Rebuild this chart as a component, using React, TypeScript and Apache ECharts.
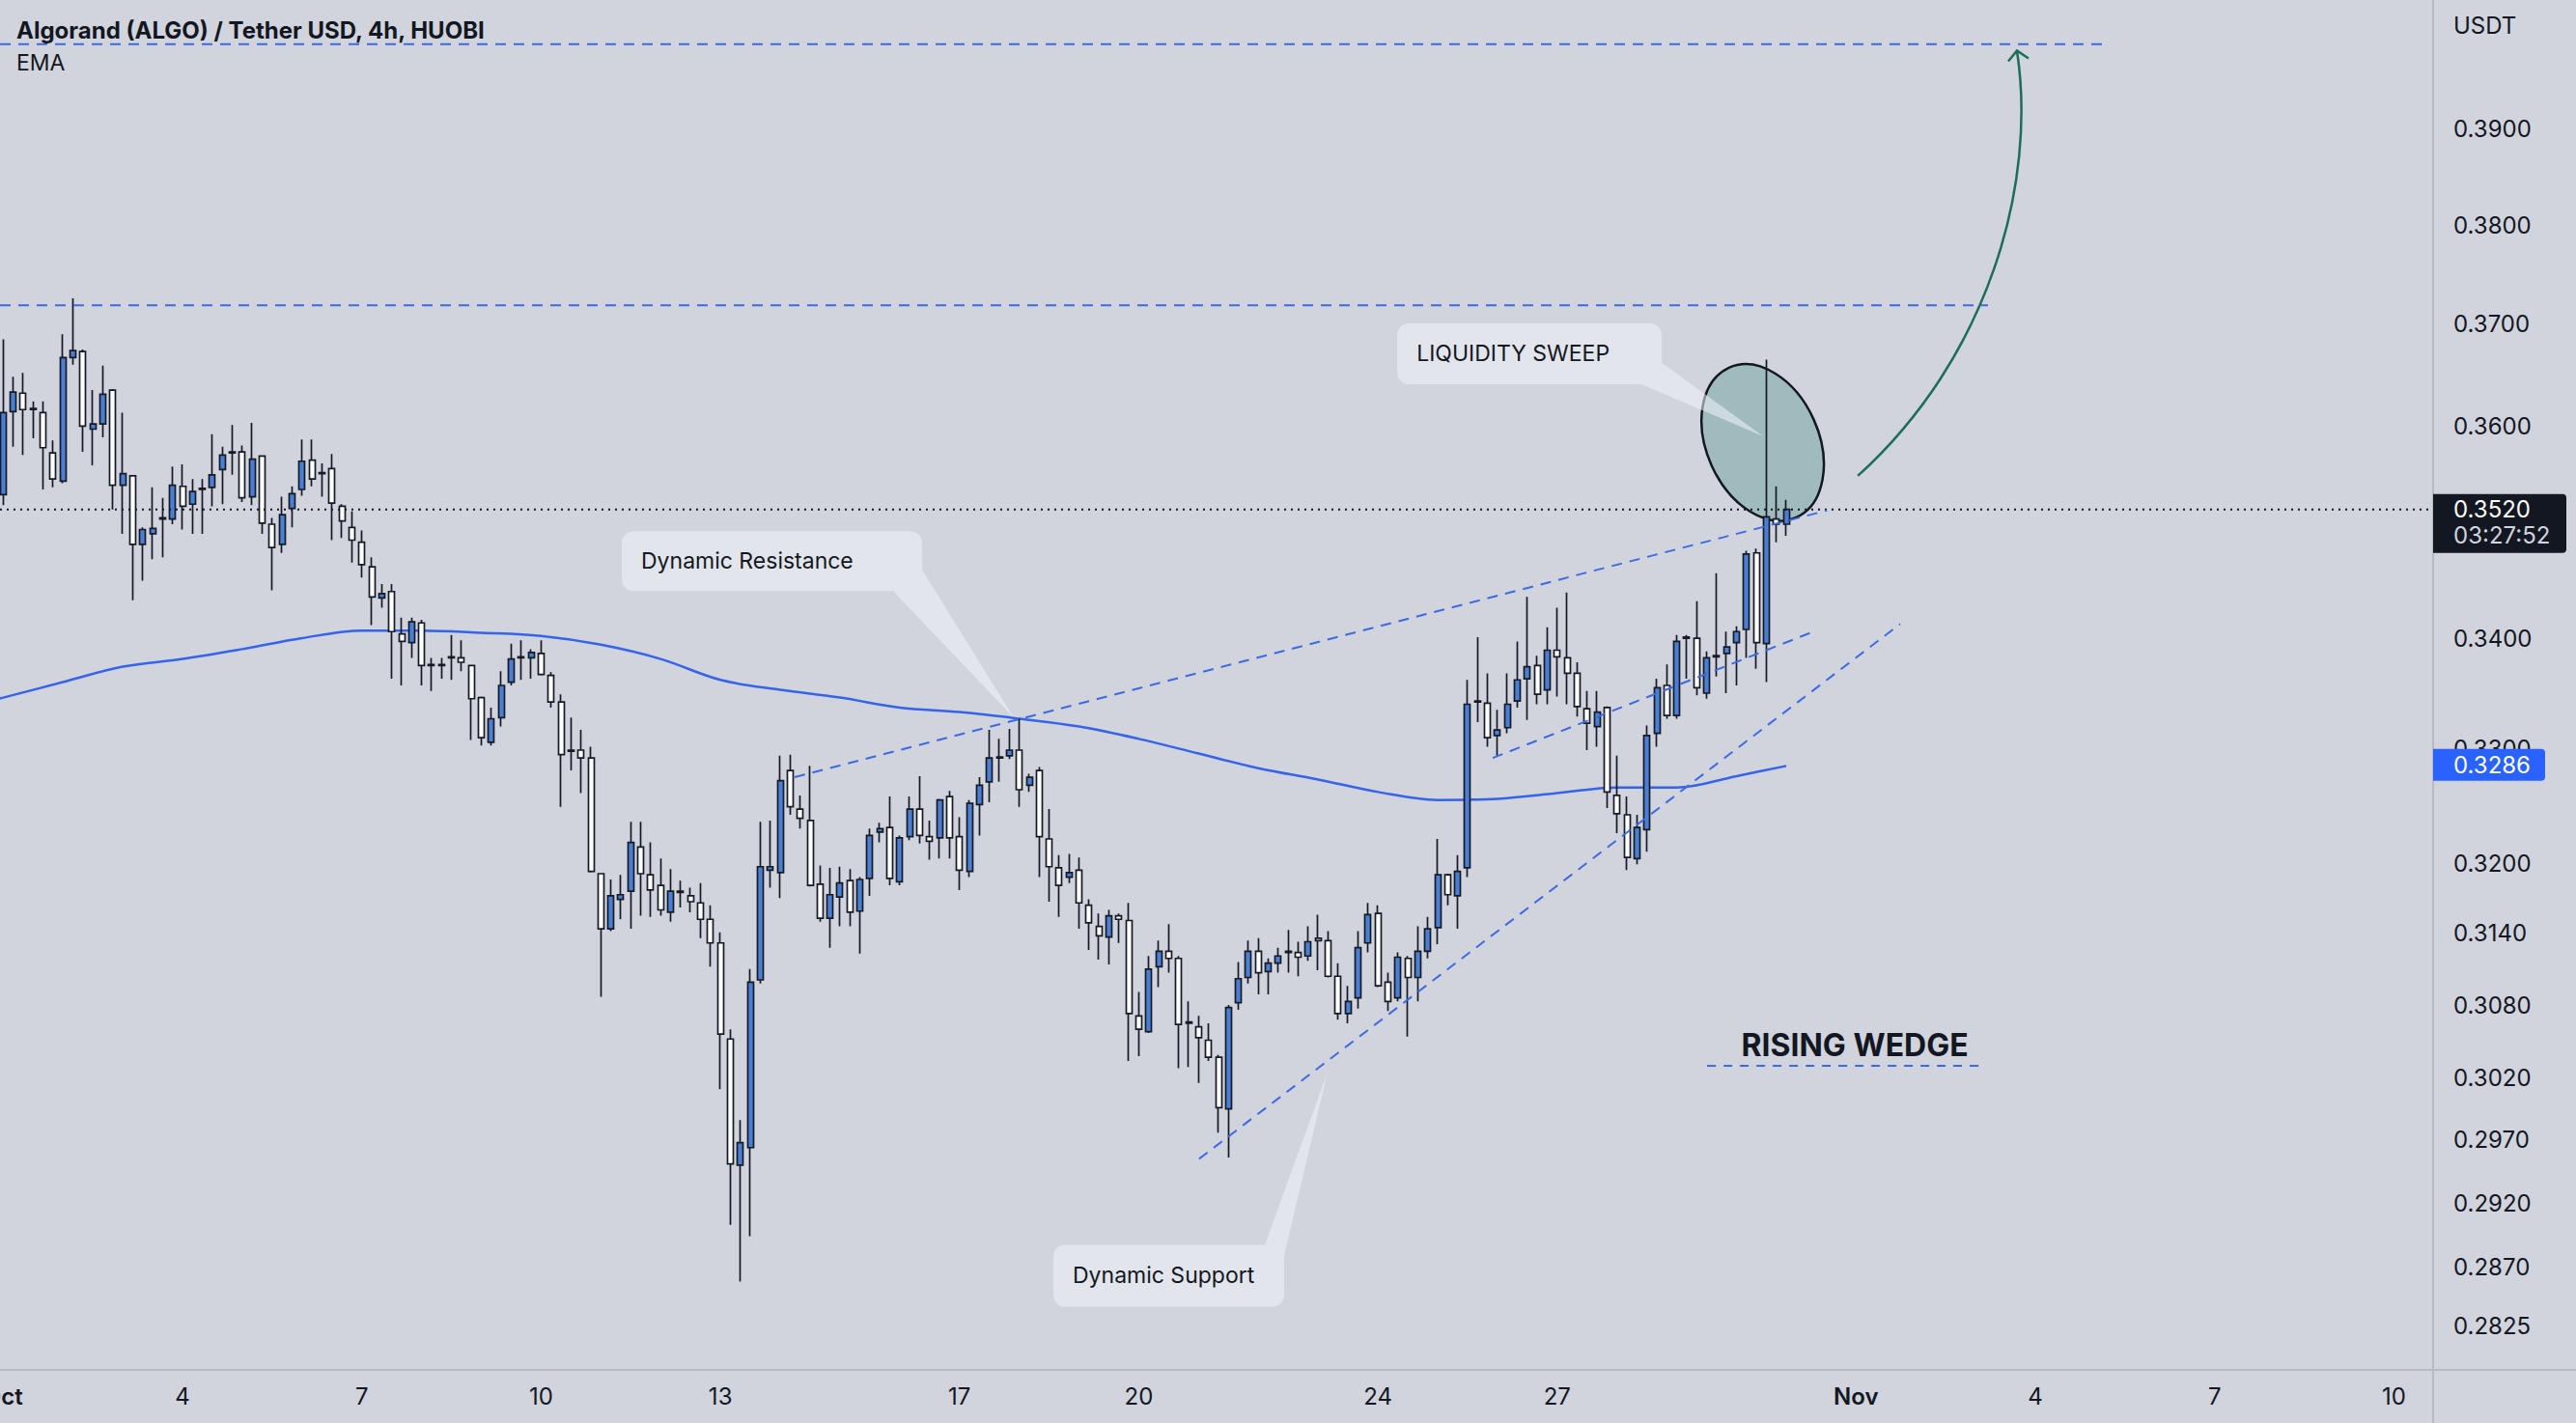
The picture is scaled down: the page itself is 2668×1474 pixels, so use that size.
import React, { useEffect, useRef } from "react";
import * as echarts from "echarts";

// ---------- data ----------
const BAR_HOURS = 4; // 4h candles, x = hours since 1 Oct 00:00
// [open, close, low, high]
const OHLC: number[][] = [
  [0.3534, 0.3613, 0.3524, 0.3685], [0.3614, 0.3633, 0.358, 0.3648], [0.3632, 0.3616, 0.3572, 0.3652],
  [0.3617, 0.3616, 0.3588, 0.3624], [0.3613, 0.3579, 0.3539, 0.3624], [0.3574, 0.3549, 0.3541, 0.3586],
  [0.3547, 0.3667, 0.3545, 0.369], [0.3667, 0.3674, 0.366, 0.3726], [0.3673, 0.36, 0.3575, 0.3675],
  [0.3597, 0.3602, 0.3562, 0.3635], [0.3602, 0.3631, 0.3589, 0.3659], [0.3635, 0.3543, 0.352, 0.3636],
  [0.3543, 0.3554, 0.3497, 0.3613], [0.3552, 0.3487, 0.3435, 0.3552], [0.3487, 0.3501, 0.3453, 0.3503],
  [0.3497, 0.3502, 0.3473, 0.3541], [0.3511, 0.3512, 0.3475, 0.3531], [0.3511, 0.3543, 0.3506, 0.3561],
  [0.3542, 0.3523, 0.3501, 0.3563], [0.3525, 0.3537, 0.3497, 0.3549], [0.3539, 0.354, 0.3497, 0.3549],
  [0.3541, 0.3553, 0.3523, 0.3592], [0.3558, 0.3572, 0.3525, 0.358], [0.3575, 0.3574, 0.3553, 0.3601],
  [0.3575, 0.3531, 0.3527, 0.3581], [0.3532, 0.3568, 0.3524, 0.3603], [0.3571, 0.3507, 0.3497, 0.3571],
  [0.3506, 0.3484, 0.3444, 0.3512], [0.3487, 0.3515, 0.3479, 0.3532], [0.3521, 0.3535, 0.3503, 0.3542],
  [0.3539, 0.3566, 0.3533, 0.3587], [0.3567, 0.3549, 0.3542, 0.3587], [0.3555, 0.3554, 0.3532, 0.3564],
  [0.3559, 0.3526, 0.3491, 0.3573], [0.3523, 0.3509, 0.3493, 0.3525], [0.3503, 0.3491, 0.347, 0.3518],
  [0.3489, 0.3468, 0.3456, 0.35], [0.3466, 0.3438, 0.3412, 0.3475], [0.3437, 0.3441, 0.3428, 0.345],
  [0.3443, 0.3406, 0.3363, 0.345], [0.3404, 0.3397, 0.3357, 0.3419], [0.3396, 0.3415, 0.3382, 0.3419],
  [0.3414, 0.3375, 0.3357, 0.3417], [0.3376, 0.3375, 0.3352, 0.3382], [0.3376, 0.3375, 0.3363, 0.3382],
  [0.3382, 0.3383, 0.3362, 0.3403], [0.3382, 0.3378, 0.337, 0.3398], [0.3375, 0.3345, 0.3308, 0.3375],
  [0.3346, 0.331, 0.3303, 0.3347], [0.3306, 0.3327, 0.3303, 0.3337], [0.3328, 0.3357, 0.332, 0.337],
  [0.336, 0.3381, 0.3357, 0.3395], [0.3382, 0.3383, 0.3362, 0.3398], [0.3382, 0.3387, 0.3363, 0.339],
  [0.3386, 0.3367, 0.3366, 0.3398], [0.3366, 0.3342, 0.3337, 0.3369], [0.3342, 0.3295, 0.3249, 0.3349],
  [0.3299, 0.3298, 0.3281, 0.3328], [0.3299, 0.3292, 0.3261, 0.3317], [0.3292, 0.3193, 0.3192, 0.3302],
  [0.3191, 0.3144, 0.3087, 0.3191], [0.3144, 0.3172, 0.3142, 0.3186], [0.3169, 0.3173, 0.3152, 0.319],
  [0.3176, 0.3218, 0.3144, 0.3236], [0.3214, 0.3191, 0.3155, 0.3236], [0.319, 0.3177, 0.3154, 0.3218],
  [0.3181, 0.316, 0.3155, 0.3204], [0.3158, 0.3176, 0.315, 0.3195], [0.3176, 0.3175, 0.3162, 0.3185],
  [0.3172, 0.3167, 0.3158, 0.3179], [0.3166, 0.3152, 0.3136, 0.3183], [0.3152, 0.3132, 0.3112, 0.3164],
  [0.3132, 0.3056, 0.3011, 0.3141], [0.3052, 0.2951, 0.2903, 0.306], [0.295, 0.2968, 0.2859, 0.2986],
  [0.2964, 0.3099, 0.2894, 0.311], [0.3101, 0.3197, 0.3098, 0.3236], [0.3194, 0.3197, 0.3179, 0.3237],
  [0.3192, 0.3272, 0.317, 0.3294], [0.3281, 0.3249, 0.3242, 0.3295], [0.3247, 0.3239, 0.323, 0.3259],
  [0.3237, 0.3181, 0.318, 0.3285], [0.3182, 0.3153, 0.315, 0.3198], [0.3153, 0.3173, 0.3128, 0.3196],
  [0.3171, 0.3183, 0.3146, 0.3197], [0.3185, 0.3158, 0.3146, 0.3195], [0.3159, 0.3186, 0.3123, 0.3188],
  [0.3187, 0.3224, 0.3172, 0.323], [0.3227, 0.323, 0.3218, 0.3235], [0.3231, 0.3187, 0.3181, 0.3258],
  [0.3184, 0.3222, 0.3181, 0.3224], [0.3223, 0.3247, 0.322, 0.3258], [0.3247, 0.3224, 0.3217, 0.3276],
  [0.3223, 0.3219, 0.3203, 0.3237], [0.3222, 0.3255, 0.3204, 0.3256], [0.3258, 0.3222, 0.3204, 0.3263],
  [0.3223, 0.3194, 0.3177, 0.324], [0.3193, 0.3252, 0.3188, 0.3255], [0.3251, 0.3268, 0.3224, 0.3275],
  [0.3271, 0.3292, 0.3253, 0.3317], [0.3292, 0.3293, 0.3271, 0.3309], [0.3294, 0.3299, 0.3291, 0.3318],
  [0.3299, 0.3264, 0.3249, 0.3327], [0.3268, 0.3275, 0.3262, 0.3278], [0.3281, 0.3223, 0.3188, 0.3284],
  [0.3221, 0.3197, 0.3167, 0.3247], [0.3196, 0.3181, 0.3154, 0.3207], [0.3188, 0.3192, 0.3183, 0.3208],
  [0.3194, 0.3166, 0.3144, 0.3205], [0.3164, 0.3149, 0.3126, 0.3169], [0.3146, 0.3138, 0.3118, 0.3157],
  [0.3137, 0.3155, 0.3114, 0.316], [0.3155, 0.3152, 0.3132, 0.3157], [0.3151, 0.3073, 0.3034, 0.3166],
  [0.3071, 0.306, 0.3038, 0.3091], [0.3058, 0.311, 0.3057, 0.3121], [0.3112, 0.3125, 0.3095, 0.3134],
  [0.3125, 0.3119, 0.3107, 0.3148], [0.3119, 0.3064, 0.3028, 0.3121], [0.3066, 0.3065, 0.3029, 0.3083],
  [0.3062, 0.3053, 0.3016, 0.3071], [0.3051, 0.3037, 0.3034, 0.3065], [0.3037, 0.2996, 0.2976, 0.3039],
  [0.2995, 0.3078, 0.2956, 0.308], [0.3082, 0.3102, 0.3076, 0.3116], [0.3103, 0.3125, 0.3098, 0.3134],
  [0.3125, 0.3107, 0.3089, 0.3136], [0.3108, 0.3115, 0.3089, 0.3119], [0.3115, 0.3121, 0.3107, 0.3128],
  [0.3125, 0.3124, 0.3107, 0.3143], [0.3124, 0.312, 0.3104, 0.3133], [0.3121, 0.3133, 0.3117, 0.3146],
  [0.3136, 0.3134, 0.3109, 0.3156], [0.3134, 0.3104, 0.3103, 0.3142], [0.3104, 0.3073, 0.3068, 0.3115],
  [0.3073, 0.3083, 0.3065, 0.3096], [0.3086, 0.3128, 0.3077, 0.3142], [0.3132, 0.3156, 0.3124, 0.3166],
  [0.3157, 0.3096, 0.3095, 0.3164], [0.3099, 0.3083, 0.3075, 0.3107], [0.3086, 0.312, 0.3083, 0.3124],
  [0.3119, 0.3103, 0.3054, 0.3121], [0.3103, 0.3125, 0.3083, 0.3146], [0.3125, 0.3144, 0.3119, 0.3154],
  [0.3145, 0.319, 0.3131, 0.3221], [0.319, 0.3173, 0.3164, 0.3191], [0.3172, 0.3193, 0.3144, 0.3207],
  [0.3196, 0.334, 0.3188, 0.3362], [0.3342, 0.3343, 0.3324, 0.3401], [0.3341, 0.331, 0.3302, 0.3368],
  [0.3312, 0.3317, 0.3294, 0.3335], [0.3319, 0.334, 0.3314, 0.3368], [0.3343, 0.3362, 0.3337, 0.3397],
  [0.3363, 0.3374, 0.3326, 0.3438], [0.3375, 0.3349, 0.334, 0.3384], [0.3353, 0.3389, 0.334, 0.341],
  [0.3389, 0.3383, 0.3347, 0.3428], [0.3382, 0.3368, 0.334, 0.3442], [0.3368, 0.3338, 0.3329, 0.3378],
  [0.3336, 0.3323, 0.3299, 0.3352], [0.332, 0.3333, 0.3302, 0.3352], [0.3337, 0.3262, 0.3248, 0.3338],
  [0.3259, 0.3243, 0.3226, 0.3294], [0.3242, 0.3205, 0.3194, 0.3258], [0.3204, 0.3231, 0.3199, 0.3242],
  [0.3229, 0.3312, 0.321, 0.3321], [0.3314, 0.3355, 0.3302, 0.3363], [0.3357, 0.333, 0.3327, 0.3376],
  [0.333, 0.3397, 0.3327, 0.3403], [0.3401, 0.34, 0.3363, 0.3403], [0.34, 0.3355, 0.3348, 0.3434],
  [0.335, 0.3382, 0.3345, 0.3388], [0.3383, 0.3384, 0.3365, 0.346], [0.3386, 0.3392, 0.335, 0.3406],
  [0.3396, 0.3406, 0.3357, 0.3411], [0.3408, 0.3478, 0.3382, 0.3481], [0.3479, 0.3396, 0.3372, 0.3483],
  [0.3395, 0.3513, 0.336, 0.3665], [0.3511, 0.3506, 0.3489, 0.3542], [0.3506, 0.352, 0.3495, 0.3529],
];

const EMA_BARS = [-1, 0, 6, 12, 18, 24, 30, 36, 42, 48, 54, 60, 66, 72, 78, 84, 90, 96, 102, 108, 114, 120, 126, 132, 138, 144, 150, 156, 162, 168, 174, 179];
const EMA_VALUES = [0.3344, 0.3346, 0.336, 0.3374, 0.3381, 0.339, 0.34, 0.3407, 0.3407, 0.3405, 0.3402, 0.3394, 0.3381, 0.3362, 0.3353, 0.3346, 0.3337, 0.3333, 0.3327, 0.332, 0.3309, 0.3296, 0.3283, 0.3273, 0.3262, 0.3255, 0.3256, 0.3261, 0.3266, 0.3266, 0.3276, 0.3285];

const X_TICK_HOURS = [0, 72, 144, 216, 288, 384, 456, 552, 624, 744, 816, 888, 960];
const X_TICK_LABELS = ["Oct", "4", "7", "10", "13", "17", "20", "24", "27", "Nov", "4", "7", "10"];
const Y_TICKS = [0.2825, 0.287, 0.292, 0.297, 0.302, 0.308, 0.314, 0.32, 0.33, 0.34, 0.36, 0.37, 0.38, 0.39];
const X_RANGE = [-1.28, 975.7];
const Y_RANGE = [0.27917, 0.40378];

const LAST_PRICE = 0.352;
const LAST_COUNTDOWN = "03:27:52";
const EMA_LAST = 0.3286;

// horizontal levels: price and end (hours)
const LEVEL_PRICES = [0.399, 0.3719];
const LEVEL_ENDS = [844.3, 797.0];
// trend lines: [[hours, price], [hours, price]]
const RESISTANCE_LINE = [[317.8, 0.3275], [732.3, 0.3519]];
const SUPPORT_LINE = [[480.2, 0.2955], [761.7, 0.3413]];
const INNER_LINE = [[598.1, 0.3292], [728.0, 0.3407]];
const WEDGE_UNDERLINE = [[684.2, 0.303], [795.9, 0.303]];

// annotation anchors in data space
const ELLIPSE_CENTER = [706.5, 0.3584];
const ARROW_FROM = [744.7, 0.3552];
const ARROW_TO = [808.6, 0.3983];
const WEDGE_TEXT_AT = [743.5, 0.3047];
const CALLOUT_TEXTS = ["Dynamic Resistance", "LIQUIDITY SWEEP", "Dynamic Support"];
const CALLOUT_TIPS = [[405.8, 0.3328], [706.7, 0.359], [531.8, 0.3025]];

// ---------- layout / style ----------
const W = 2668;
const H = 1474;
const GRID = { left: 0, right: 148, top: 0, bottom: 55 };
const BG = "#d1d4dc";
const TEXT = "#131722";
const FONT = 'Inter, "Noto Sans", Roboto, sans-serif';
const DASH_BLUE = "#3d6ae3";
const EMA_BLUE = "#3563ea";
const FRAME = "#b7bac3";
const CALLOUT_FILL = "rgba(240,243,250,0.55)";
// callout layout relative to the tip (px): box [dx, dy, w, h], wedge base A, B, corner C
const CALLOUT_LAYOUT = [
  { box: [-406, -193, 311, 62], pts: [[-125, -131], [-95, -153], [-95, -131]], r: [12, 12, 0, 12] },
  { box: [-379, -117, 274, 63], pts: [[-126, -54], [-105, -76], [-105, -54]], r: [12, 12, 0, 12] },
  { box: [-284, 179, 239, 64], pts: [[-65, 179], [-45, 190], [-45, 179]], r: [12, 0, 12, 12] },
];

function lineSeries(data: number[][], color: string, width: number, type: any, z = 3, smooth: any = false) {
  return {
    type: "line",
    data,
    symbol: "none",
    silent: true,
    smooth,
    z,
    lineStyle: { color, width, type },
    animation: false,
  };
}

export default function App() {
  const ref = useRef<HTMLDivElement>(null);

  useEffect(() => {
    if (!ref.current) return;
    const chart = echarts.init(ref.current, null, { renderer: "svg" });

    const candles = OHLC.map((d, i) => [i * BAR_HOURS, d[0], d[1], d[2], d[3]]);
    const ema = EMA_BARS.map((b, k) => [b * BAR_HOURS, EMA_VALUES[k]]);

    const option: any = {
      animation: false,
      backgroundColor: BG,
      grid: { ...GRID, containLabel: false, outerBoundsMode: "none" },
      xAxis: {
        type: "value",
        min: X_RANGE[0],
        max: X_RANGE[1],
        axisLine: { show: true, onZero: false, lineStyle: { color: FRAME, width: 2 } },
        axisTick: { show: false },
        splitLine: { show: false },
        axisLabel: {
          customValues: X_TICK_HOURS,
          margin: 15,
          color: TEXT,
          fontSize: 24,
          fontFamily: FONT,
          formatter: (v: number) => {
            const k = X_TICK_HOURS.findIndex((h) => Math.abs(h - v) < 0.01);
            if (k < 0) return "";
            const lab = X_TICK_LABELS[k];
            return isNaN(Number(lab)) ? `{m|${lab}}` : lab;
          },
          rich: { m: { fontWeight: 600, fontSize: 24, color: TEXT, fontFamily: FONT } },
        },
      },
      yAxis: {
        type: "log",
        logBase: 10,
        position: "right",
        min: Y_RANGE[0],
        max: Y_RANGE[1],
        axisLine: { show: true, onZero: false, lineStyle: { color: FRAME, width: 2 } },
        axisTick: { show: false },
        splitLine: { show: false },
        axisLabel: {
          customValues: Y_TICKS,
          margin: 21,
          color: TEXT,
          fontSize: 24,
          fontFamily: FONT,
          formatter: (v: number) => Number(v).toFixed(4),
        },
      },
      series: [
        lineSeries(ema, EMA_BLUE, 2.5, "solid", 1, 0.35),
        {
          type: "candlestick",
          data: candles,
          encode: { x: 0, y: [1, 2, 3, 4] },
          barWidth: 6.5,
          z: 2,
          silent: true,
          itemStyle: {
            color: "#4a7fd6",
            color0: "#ffffff",
            borderColor: "#161a25",
            borderColor0: "#161a25",
            borderColorDoji: "#161a25",
            borderWidth: 1.7,
          },
        },
        lineSeries([[X_RANGE[0], LAST_PRICE], [X_RANGE[1], LAST_PRICE]], TEXT, 2, [2, 5], 3),
        lineSeries([[X_RANGE[0], LEVEL_PRICES[0]], [LEVEL_ENDS[0], LEVEL_PRICES[0]]], DASH_BLUE, 2, [11, 8]),
        lineSeries([[X_RANGE[0], LEVEL_PRICES[1]], [LEVEL_ENDS[1], LEVEL_PRICES[1]]], DASH_BLUE, 2, [11, 8]),
        lineSeries(RESISTANCE_LINE, DASH_BLUE, 2, [11, 8]),
        lineSeries(SUPPORT_LINE, DASH_BLUE, 2, [11, 8]),
        lineSeries(INNER_LINE, DASH_BLUE, 2, [11, 8]),
        lineSeries(WEDGE_UNDERLINE, DASH_BLUE, 2, [9, 8]),
      ],
    };
    chart.setOption(option);

    const toPx = (p: number[]) => chart.convertToPixel({ gridIndex: 0 }, p) as number[];
    const gridRight = W - GRID.right;
    const axisBottom = H - GRID.bottom;
    const txt = (x: number, y: number, text: string, font: string, fill: string, align = "left", z = 20) => ({
      type: "text",
      z,
      x,
      y,
      style: { text, font, fill, align, verticalAlign: "middle", textAlign: align, textVerticalAlign: "middle" },
    });

    const g: any[] = [];
    // frame extensions
    g.push({ type: "line", z: 5, shape: { x1: gridRight, y1: axisBottom, x2: W, y2: axisBottom }, style: { stroke: FRAME, lineWidth: 2 } });
    g.push({ type: "line", z: 5, shape: { x1: gridRight, y1: axisBottom, x2: gridRight, y2: H }, style: { stroke: FRAME, lineWidth: 2 } });

    // ellipse
    const ec = toPx(ELLIPSE_CENTER);
    g.push({
      type: "ellipse",
      z: 1,
      x: ec[0],
      y: ec[1],
      rotation: -1.148,
      shape: { cx: 0, cy: 0, rx: 85, ry: 58 },
      style: { fill: "rgba(0,105,92,0.23)", stroke: "#131722", lineWidth: 2.5 },
    });

    // callouts
    CALLOUT_TEXTS.forEach((t, k) => {
      const tip = toPx(CALLOUT_TIPS[k]);
      const L = CALLOUT_LAYOUT[k];
      const bx = tip[0] + L.box[0];
      const by = tip[1] + L.box[1];
      g.push({
        type: "rect",
        z: 8,
        shape: { x: bx, y: by, width: L.box[2], height: L.box[3], r: L.r },
        style: { fill: CALLOUT_FILL },
      });
      g.push({
        type: "polygon",
        z: 8,
        shape: {
          points: [
            [tip[0] + L.pts[0][0], tip[1] + L.pts[0][1]],
            [tip[0], tip[1]],
            [tip[0] + L.pts[1][0], tip[1] + L.pts[1][1]],
            [tip[0] + L.pts[2][0], tip[1] + L.pts[2][1]],
          ],
        },
        style: { fill: CALLOUT_FILL },
      });
      g.push(txt(bx + 20, by + L.box[3] / 2, t, `23px ${FONT}`, TEXT, "left", 9));
    });

    // green arrow
    const a0 = toPx(ARROW_FROM);
    const a1 = toPx(ARROW_TO);
    g.push({
      type: "bezierCurve",
      z: 9,
      shape: {
        x1: a0[0], y1: a0[1],
        cpx1: a0[0] + 136, cpy1: a0[1] - 123,
        cpx2: a1[0] + 21, cpy2: a1[1] + 137,
        x2: a1[0], y2: a1[1],
      },
      style: { stroke: "#1d6d58", lineWidth: 2.5, fill: null },
    });
    g.push({
      type: "polyline",
      z: 9,
      shape: { points: [[a1[0] - 9, a1[1] + 11], [a1[0], a1[1]], [a1[0] + 12, a1[1] + 8]] },
      style: { stroke: "#1d6d58", lineWidth: 2.5, fill: null },
    });

    // rising wedge text
    const wt = toPx(WEDGE_TEXT_AT);
    g.push(txt(wt[0], wt[1], "RISING WEDGE", `bold 32px ${FONT}`, TEXT, "center", 9));

    // title
    g.push(txt(17, 31, "Algorand (ALGO) / Tether USD, 4h, HUOBI", `bold 24px ${FONT}`, TEXT));
    g.push(txt(17, 65, "EMA", `23px ${FONT}`, TEXT));
    g.push(txt(gridRight + 21, 26, "USDT", `24px ${FONT}`, TEXT));

    // last price label
    const lp = toPx([0, LAST_PRICE])[1];
    g.push({
      type: "rect",
      z: 30,
      shape: { x: gridRight, y: lp - 16, width: 138, height: 61, r: [0, 4, 4, 0] },
      style: { fill: TEXT },
    });
    g.push(txt(gridRight + 21, lp, LAST_PRICE.toFixed(4), `24px ${FONT}`, "#ffffff", "left", 31));
    g.push(txt(gridRight + 21, lp + 27, LAST_COUNTDOWN, `24px ${FONT}`, "#d1d4dc", "left", 31));

    // EMA label
    const ep = toPx([0, EMA_LAST])[1];
    g.push({
      type: "rect",
      z: 30,
      shape: { x: gridRight, y: ep - 16.5, width: 116, height: 33, r: [0, 4, 4, 0] },
      style: { fill: "#2962ff" },
    });
    g.push(txt(gridRight + 21, ep, EMA_LAST.toFixed(4), `24px ${FONT}`, "#ffffff", "left", 31));

    chart.setOption({ graphic: { elements: g } });

    return () => chart.dispose();
  }, []);

  return (
    <div
      ref={ref}
      style={{ position: "fixed", left: 0, top: 0, width: W + "px", height: H + "px" }}
    />
  );
}
